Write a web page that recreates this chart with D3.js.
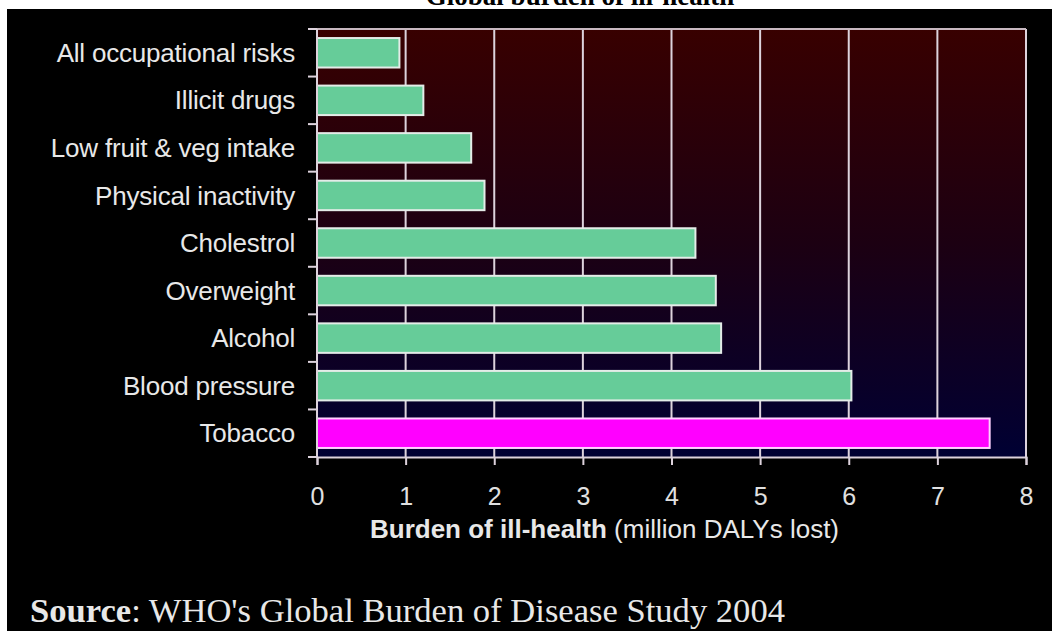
<!DOCTYPE html>
<html>
<head>
<meta charset="utf-8">
<script src="https://cdn.jsdelivr.net/npm/d3@7"></script>
<style>
  body { margin: 0; background: #fff; }
  svg { display: block; }
</style>
</head>
<body>
<div id="chart"></div>
<script>
var categories = ["All occupational risks", "Illicit drugs", "Low fruit & veg intake", "Physical inactivity",
    "Cholestrol", "Overweight", "Alcohol", "Blood pressure", "Tobacco"];
var values = [0.93, 1.20, 1.74, 1.89, 4.27, 4.50, 4.56, 6.03, 7.59];
var xTicks = [0, 1, 2, 3, 4, 5, 6, 7, 8];
var highlight = "Tobacco";

var width = 1052, height = 631;
var margin = {top: 29, right: 26, bottom: 174, left: 317};

var svg = d3.select("#chart").append("svg")
    .attr("width", width)
    .attr("height", height);

// white page with the black slide on it
svg.append("rect").attr("width", width).attr("height", height).attr("fill", "#fff");
svg.append("rect").attr("x", 7).attr("y", 9).attr("width", width - 7).attr("height", height - 9).attr("fill", "#000");

// page title, cut off at the top like the source picture
svg.append("text")
    .attr("x", 580).attr("y", 5)
    .attr("text-anchor", "middle")
    .style("font-family", "'Liberation Serif', 'Times New Roman', serif")
    .style("font-weight", "bold")
    .style("font-size", "27px")
    .attr("fill", "#000")
    .text("Global burden of ill-health");

var defs = svg.append("defs");
var grad = defs.append("linearGradient").attr("id", "bg").attr("x1", 0).attr("y1", 0).attr("x2", 0).attr("y2", 1);
grad.append("stop").attr("offset", "0%").attr("stop-color", "#380000");
grad.append("stop").attr("offset", "50%").attr("stop-color", "#1c0012");
grad.append("stop").attr("offset", "100%").attr("stop-color", "#000033");

var x = d3.scaleLinear()
    .domain([0, 8])
    .range([margin.left, width - margin.right]);

var y = d3.scaleBand()
    .domain(categories)
    .range([margin.top, height - margin.bottom])
    .paddingInner(0.38)
    .paddingOuter(0.19);

var lineColor = "#ddd2dc";

svg.append("rect")
    .attr("x", x(0)).attr("y", margin.top)
    .attr("width", x(8) - x(0)).attr("height", height - margin.bottom - margin.top)
    .attr("fill", "url(#bg)");

// vertical grid lines
svg.append("g").selectAll("line")
    .data(xTicks.slice(1))
    .join("line")
    .attr("x1", d => x(d)).attr("x2", d => x(d))
    .attr("y1", margin.top).attr("y2", height - margin.bottom)
    .attr("stroke", lineColor)
    .attr("stroke-width", 2);

// top frame line
svg.append("line")
    .attr("x1", x(0)).attr("x2", x(8))
    .attr("y1", margin.top).attr("y2", margin.top)
    .attr("stroke", "#c8b8c0")
    .attr("stroke-width", 2);

svg.append("g").selectAll("rect")
    .data(categories)
    .join("rect")
    .attr("x", x(0))
    .attr("y", d => y(d))
    .attr("width", (d, i) => x(values[i]) - x(0))
    .attr("height", y.bandwidth())
    .attr("fill", d => d == highlight ? "#ff00ff" : "#66cc99")
    .attr("stroke", d => d == highlight ? "#ffd0ff" : "#e4ece8")
    .attr("stroke-width", 2);

// left axis with ticks between the bands
var yAxis = svg.append("g");
yAxis.append("line")
    .attr("x1", x(0)).attr("x2", x(0))
    .attr("y1", margin.top).attr("y2", height - margin.bottom)
    .attr("stroke", lineColor).attr("stroke-width", 2);
yAxis.selectAll(".tick")
    .data(d3.range(categories.length + 1))
    .join("line")
    .attr("class", "tick")
    .attr("x1", x(0) - 9).attr("x2", x(0))
    .attr("y1", i => margin.top + i * y.step())
    .attr("y2", i => margin.top + i * y.step())
    .attr("stroke", lineColor).attr("stroke-width", 2);
yAxis.selectAll("text")
    .data(categories)
    .join("text")
    .attr("x", 295)
    .attr("y", d => y(d) + y.bandwidth() / 2)
    .attr("dy", "0.35em")
    .attr("text-anchor", "end")
    .style("font-family", "'Liberation Sans', Arial, sans-serif")
    .style("font-size", "26px")
    .style("letter-spacing", "-0.2px")
    .attr("fill", "#e8e8e8")
    .text(d => d);

var xAxis = d3.axisBottom(x)
    .tickValues(xTicks)
    .tickSize(8)
    .tickPadding(22)
    .tickFormat(d3.format("d"));

var gx = svg.append("g")
    .attr("transform", "translate(0," + (height - margin.bottom) + ")")
    .call(xAxis);
gx.select(".domain").attr("stroke", lineColor).attr("stroke-width", 2);
gx.selectAll(".tick line").attr("stroke", lineColor).attr("stroke-width", 2);
gx.selectAll(".tick text")
    .attr("fill", "#e0e0e0")
    .style("font-family", "'Liberation Sans', Arial, sans-serif")
    .style("font-size", "25px");

var xTitle = svg.append("text")
    .attr("x", 370).attr("y", 538)
    .style("font-family", "'Liberation Sans', Arial, sans-serif")
    .attr("fill", "#e8e8e8");
xTitle.append("tspan")
    .style("font-weight", "bold")
    .style("font-size", "26px")
    .text("Burden of ill-health ");
xTitle.append("tspan")
    .style("font-size", "26px")
    .text("(million DALYs lost)");

var source = svg.append("text")
    .attr("x", 30).attr("y", 622)
    .attr("textLength", 755)
    .attr("lengthAdjust", "spacingAndGlyphs")
    .style("font-family", "'Liberation Serif', 'Times New Roman', serif")
    .style("font-size", "34px")
    .attr("fill", "#e8e8e8");
source.append("tspan").style("font-weight", "bold").text("Source");
source.append("tspan").text(": WHO's Global Burden of Disease Study 2004");
</script>
</body>
</html>
